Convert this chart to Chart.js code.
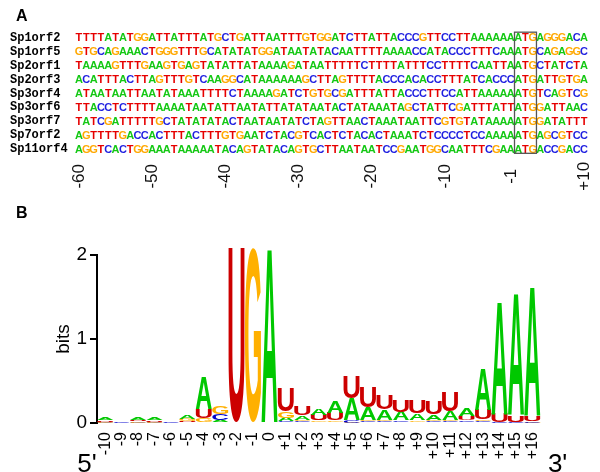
<!DOCTYPE html>
<html>
<head>
<meta charset="utf-8">
<script src="https://cdn.jsdelivr.net/npm/chart.js@4.4.1/dist/chart.umd.min.js"></script>
<style>
  html, body { margin: 0; padding: 0; background: #fff; }
  #wrap { position: relative; width: 600px; height: 472px; overflow: hidden; }
  #cA { position: absolute; left: 0; top: 0; }
  #cB { position: absolute; left: 0; top: 200px; }
  .panel { position: absolute; left: 16px; font: bold 16px "Liberation Sans", Arial, sans-serif; line-height: 16px; color: #000; }
</style>
</head>
<body>
<div id="wrap">
  <canvas id="cA" width="600" height="200"></canvas>
  <canvas id="cB" width="600" height="272"></canvas>
  <div class="panel" style="top:8px">A</div>
  <div class="panel" style="top:205px">B</div>
</div>
<script>
// ---- panel A: alignment upstream of the start codon ----
const seqNames = ['Sp1orf2', 'Sp1orf5', 'Sp2orf1', 'Sp2orf3', 'Sp3orf4', 'Sp3orf6', 'Sp3orf7', 'Sp7orf2', 'Sp11orf4'];
const seqs = [
  'TTTTATATGGATTATTTATGCTGATTAATTTGTGGATCTTATTACCCGTTCCTTAAAAAAATGAGGGACA',
  'GTGCAGAAACTGGGTTTGCATATATGGATAATATACAATTTTAAAACCATACCCTTTCAAATGCAGAGGC',
  'TAAAAGTTTGAAGTGAGTATATTATAAAAGATAATTTTTCTTTTATTTCCTTTTCAATTAATGCTATCTA',
  'ACATTTACTTAGTTTGTCAAGGCATAAAAAAGCTTAGTTTTACCCACACCTTTATCACCCATGATTGTGA',
  'ATAATAATTAATATAAATTTTCTAAAAGATCTGTGCGATTTATTACCCTTCCATTAAAAAATGTCAGTCG',
  'TTACCTCTTTTAAAATAATATTAATATTATATAATACTATAAATAGCTATTCGATTTATTATGGATTAAC',
  'TATCGATTTTTGCTATATATACTAATAATATCTAGTTAACTAAATAATTCGTGTATAAAAATGGATATTT',
  'AGTTTTGACCACTTTACTTTGTGAATCTACGTCACTCTACACTAAATCTCCCCTCCAAAAATGAGCGTCC',
  'AGGTCACTGGAAATAAAAATACAGTATACAGTGCTTAATAATCCGAATGGCAATTTCGAAATGACCGACC'
];
const alignTicks = [1, 11, 21, 31, 41, 51, 60, 70];
const alignTickLabels = ['-60', '-50', '-40', '-30', '-20', '-10', '-1', '+10'];
const startCodon = [61, 63];

// ---- panel B: sequence logo, bits per base and position ----
const logoPos = ['-10', '-9', '-8', '-7', '-6', '-5', '-4', '-3', '-2', '-1', '0',
  '+1', '+2', '+3', '+4', '+5', '+6', '+7', '+8', '+9', '+10', '+11', '+12', '+13', '+14', '+15', '+16'];
const bitsA = [0.035, 0.004, 0.035, 0.03, 0.003, 0.05, 0.38, 0.025, 0, 0, 2.08,
  0.04, 0.05, 0.075, 0.13, 0.26, 0.15, 0.12, 0.1, 0.08, 0.06, 0.1, 0.095, 0.49, 1.35, 1.45, 1.55];
const bitsC = [0.005, 0.002, 0.005, 0.005, 0.002, 0.01, 0.01, 0.07, 0, 0, 0,
  0.02, 0.02, 0.01, 0.01, 0.03, 0.02, 0.02, 0.02, 0.015, 0.02, 0.02, 0.02, 0.02, 0.005, 0.005, 0.02];
const bitsG = [0.012, 0.002, 0.015, 0.01, 0.002, 0.025, 0.05, 0.09, 0, 2.08, 0,
  0.08, 0.02, 0.02, 0.02, 0.005, 0.02, 0.02, 0.015, 0.02, 0.02, 0.02, 0.01, 0.02, 0.005, 0.005, 0.005];
const bitsU = [0.018, 0.003, 0.015, 0.015, 0.002, 0.01, 0.11, 0.015, 2.08, 0, 0,
  0.27, 0.1, 0.07, 0.09, 0.265, 0.25, 0.17, 0.13, 0.15, 0.15, 0.225, 0.05, 0.12, 0.1, 0.08, 0.06];

const seqColors = { A: '#14c814', C: '#1e1ee0', G: '#ffa800', T: '#e60000' };
const logoColors = { A: '#00c800', C: '#0000cc', G: '#ffb000', U: '#cc0000' };
const sans = '"Liberation Sans", Arial, sans-serif';

// ---------- chart A ----------
const seqPoints = [];
seqs.forEach((s, r) => {
  for (let i = 0; i < s.length; i++) seqPoints.push({ x: i + 1, y: seqNames[r], base: s[i] });
});

const seqPlugin = {
  id: 'seqLetters',
  afterDatasetsDraw(chart) {
    const ctx = chart.ctx;
    const meta = chart.getDatasetMeta(0);
    const pts = chart.data.datasets[0].data;
    const xs = chart.scales.x, ys = chart.scales.y;
    ctx.save();
    ctx.font = 'bold 11px ' + sans;
    ctx.textAlign = 'center';
    ctx.textBaseline = 'middle';
    meta.data.forEach((el, i) => {
      ctx.fillStyle = seqColors[pts[i].base];
      ctx.fillText(pts[i].base, el.x, el.y + 0.5);
    });
    // box round the start codon
    const bx0 = xs.getPixelForValue(startCodon[0] - 0.5);
    const bx1 = xs.getPixelForValue(startCodon[1] + 0.5);
    const by0 = ys.getPixelForValue(0) - 5.5;
    const by1 = ys.getPixelForValue(seqNames.length - 1) + 4;
    ctx.strokeStyle = '#555';
    ctx.lineWidth = 1.3;
    ctx.strokeRect(bx0, by0, bx1 - bx0, by1 - by0);
    // rotated position labels, centred under the rows
    ctx.fillStyle = '#111';
    ctx.font = '17px ' + sans;
    alignTicks.forEach((v, k) => {
      ctx.save();
      ctx.translate(xs.getPixelForValue(v), chart.chartArea.bottom + 20);
      ctx.rotate(-Math.PI / 2);
      ctx.fillText(alignTickLabels[k], 0, 0);
      ctx.restore();
    });
    ctx.restore();
  }
};

new Chart(document.getElementById('cA'), {
  type: 'scatter',
  data: { datasets: [{ data: seqPoints, pointRadius: 0, pointHoverRadius: 0 }] },
  options: {
    responsive: false,
    animation: false,
    devicePixelRatio: 1,
    events: [],
    layout: { padding: { left: 10, right: 12.3, top: 30.7, bottom: 0 } },
    plugins: { legend: { display: false }, tooltip: { enabled: false } },
    scales: {
      x: {
        type: 'linear', min: 0.5, max: 70.5,
        ticks: { display: false },
        grid: { display: false }, border: { display: false },
        afterFit(s) { s.height = 43.7; }
      },
      y: {
        type: 'category', labels: seqNames, offset: true,
        grid: { display: false }, border: { display: false },
        ticks: { color: '#000', crossAlign: 'far', padding: 0, autoSkip: false,
          font: { family: '"Liberation Mono", "Courier New", monospace', weight: 'bold', size: 12 } },
        afterFit(s) { s.width = 65.3; }
      }
    }
  },
  plugins: [seqPlugin]
});

// ---------- chart B ----------
const logoBits = { A: bitsA, C: bitsC, G: bitsG, U: bitsU };
const rankSets = [0, 1, 2, 3].map(() => ({ data: [], letters: [] }));
logoPos.forEach((p, k) => {
  const stack = Object.keys(logoBits).map(b => ({ b, h: logoBits[b][k] }))
    .sort((a, c) => a.h - c.h);
  stack.forEach((e, r) => { rankSets[r].data.push(e.h); rankSets[r].letters.push(e.b); });
});

function drawGlyph(ctx, ch, left, top, w, h, color) {
  if (h <= 0 || w <= 0) return;
  ctx.save();
  ctx.font = 'bold 100px ' + sans;
  ctx.textAlign = 'left';
  ctx.textBaseline = 'alphabetic';
  const m = ctx.measureText(ch);
  const gw = m.actualBoundingBoxLeft + m.actualBoundingBoxRight;
  const gh = m.actualBoundingBoxAscent + m.actualBoundingBoxDescent;
  ctx.translate(left, top + h);
  ctx.scale(w / gw, h / gh);
  ctx.fillStyle = color;
  ctx.fillText(ch, m.actualBoundingBoxLeft, -m.actualBoundingBoxDescent);
  ctx.restore();
}

const logoPlugin = {
  id: 'logoLetters',
  afterDatasetsDraw(chart) {
    const ctx = chart.ctx;
    chart.data.datasets.forEach((ds, d) => {
      chart.getDatasetMeta(d).data.forEach((el, k) => {
        if (!(ds.data[k] > 0)) return;
        const { x, y, base, width } = el.getProps(['x', 'y', 'base', 'width'], true);
        const top = Math.min(y, base);
        drawGlyph(ctx, ds.letters[k], x - width / 2, top, width, Math.abs(base - y), logoColors[ds.letters[k]]);
      });
    });
  },
  afterDraw(chart) {
    const ctx = chart.ctx, a = chart.chartArea, xs = chart.scales.x;
    ctx.save();
    ctx.fillStyle = '#000';
    // position labels, read bottom to top, hanging from just under the letters
    ctx.font = '16px ' + sans;
    ctx.textAlign = 'right';
    ctx.textBaseline = 'middle';
    logoPos.forEach((lab, k) => {
      ctx.save();
      ctx.translate(xs.getPixelForValue(k), a.bottom + 9);
      ctx.rotate(-Math.PI / 2);
      ctx.fillText(lab, 0, 0);
      ctx.restore();
    });
    ctx.font = '26px ' + sans;
    ctx.textAlign = 'center';
    ctx.fillText("5'", a.left - 10, a.bottom + 42);
    ctx.fillText("3'", a.right + 17, a.bottom + 42);
    ctx.restore();
  }
};

new Chart(document.getElementById('cB'), {
  type: 'bar',
  data: {
    labels: logoPos,
    datasets: rankSets.map(r => ({
      data: r.data, letters: r.letters,
      backgroundColor: 'rgba(0,0,0,0)', borderWidth: 0,
      categoryPercentage: 1, barPercentage: 0.98
    }))
  },
  options: {
    responsive: false,
    animation: false,
    devicePixelRatio: 1,
    events: [],
    layout: { padding: { left: 0, right: 59.4, top: 55, bottom: 0 } },
    plugins: { legend: { display: false }, tooltip: { enabled: false } },
    scales: {
      x: {
        stacked: true,
        grid: { display: false, drawTicks: false }, border: { display: false },
        ticks: { display: false },
        afterFit(s) { s.height = 49; }
      },
      y: {
        stacked: true, min: 0, max: 2,
        ticks: { stepSize: 1, color: '#000', padding: 3, font: { family: sans, size: 19 } },
        grid: { drawOnChartArea: false, drawTicks: true, tickLength: 7, color: '#000', lineWidth: 2 },
        border: { display: true, color: '#000', width: 2 },
        title: { display: true, text: 'bits', color: '#000', font: { family: sans, size: 19 },
          padding: { top: 52.6, bottom: 0 } },
        afterFit(s) { s.width = 97; }
      }
    }
  },
  plugins: [logoPlugin]
});
</script>
</body>
</html>
